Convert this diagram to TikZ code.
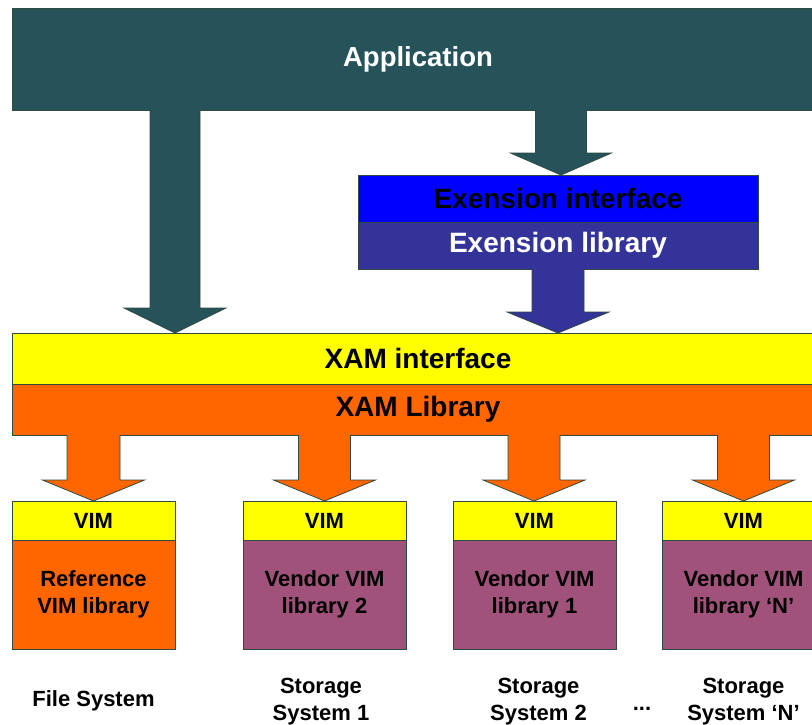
\documentclass[tikz,border=0pt]{standalone}
\usepackage{fontspec}
\setmainfont{Liberation Sans}
\usetikzlibrary{calc}

\definecolor{appteal}{HTML}{255359}
\definecolor{extblue}{HTML}{0000FF}
\definecolor{extnavy}{HTML}{333399}
\definecolor{xamyellow}{HTML}{FFFF00}
\definecolor{xamorange}{HTML}{FF6600}
\definecolor{vendorplum}{HTML}{A0527A}
\definecolor{edgegray}{HTML}{2F4A40}

% block arrow: #1 style, #2 x position, #3 source node, #4 target node,
% #5 half shaft width, #6 half head width, #7 head length
\newcommand{\fatarrow}[7]{%
  \coordinate (fas) at (#2,0 |- #3.south);
  \coordinate (fat) at (#2,0 |- #4.north);
  \filldraw[#1] ($(fas)+(-#5,0)$) -- ($(fat)+(-#5,-#7)$) -- ($(fat)+(-#6,-#7)$)
    -- (fat) -- ($(fat)+(#6,-#7)$) -- ($(fat)+(#5,-#7)$) -- ($(fas)+(#5,0)$);
}

\tikzset{
  layer/.style={draw=edgegray, line width=0.8pt, rectangle, inner sep=0pt,
    outer sep=0pt, anchor=north west, align=center, font=\bfseries},
  bigtext/.style={font=\fontsize{28}{33}\selectfont\bfseries},
  smalltext/.style={font=\fontsize{22}{27}\selectfont\bfseries},
  vimbox/.style={layer, smalltext, fill=xamyellow, minimum width=163pt, minimum height=39pt},
  libbox/.style={layer, smalltext, minimum width=163pt, minimum height=109pt},
  caption/.style={smalltext, align=center, inner sep=0pt},
  arrowline/.style={draw=edgegray, line width=0.8pt, line join=miter},
}

\begin{document}
\begin{tikzpicture}[x=1pt, y=-1pt]
\useasboundingbox (0,0) rectangle (812,724);
\clip (0,0) rectangle (812,724);

% application layer
\node[layer, fill=appteal, text=white, minimum width=812pt, minimum height=102pt,
  font=\fontsize{27.5}{33}\selectfont\bfseries] (app) at (12,8) {Application};

% extension layers
\node[layer, bigtext, fill=extblue, text=black, minimum width=400pt, minimum height=47pt]
  (extif) at (358,175) {Exension interface};
\node[layer, bigtext, fill=extnavy, text=white, minimum width=400pt, minimum height=47pt]
  (extlib) at (358,222) {Exension library};

% XAM layers
\node[layer, bigtext, fill=xamyellow, minimum width=812pt, minimum height=51pt]
  (xamif) at (12,333) {XAM interface};
\node[layer, bigtext, fill=xamorange, minimum width=812pt, minimum height=51pt]
  (xamlib) at (12,384) {XAM Library};

% VIM stacks
\node[vimbox] (vim1) at (12,501) {VIM};
\node[vimbox] (vim2) at (243,501) {VIM};
\node[vimbox] (vim3) at (453,501) {VIM};
\node[vimbox] (vim4) at (662,501) {VIM};
\node[libbox, fill=xamorange] (lib1) at (12,540) {Reference\\VIM library};
\node[libbox, fill=vendorplum] (lib2) at (243,540) {Vendor VIM\\library 2};
\node[libbox, fill=vendorplum] (lib3) at (453,540) {Vendor VIM\\library 1};
\node[libbox, fill=vendorplum] (lib4) at (662,540) {Vendor VIM\\library ‘N’};

% block arrows
\fatarrow{arrowline, fill=appteal}{175}{app}{xamif}{25}{51}{25}
\fatarrow{arrowline, fill=appteal}{561}{app}{extif}{25.5}{50.5}{22}
\fatarrow{arrowline, fill=extnavy}{558}{extlib}{xamif}{26}{51}{21}
\fatarrow{arrowline, fill=xamorange}{93.5}{xamlib}{vim1}{26.5}{51}{21}
\fatarrow{arrowline, fill=xamorange}{324.5}{xamlib}{vim2}{26}{51}{21}
\fatarrow{arrowline, fill=xamorange}{534}{xamlib}{vim3}{26}{51}{21}
\fatarrow{arrowline, fill=xamorange}{743.5}{xamlib}{vim4}{26}{51}{21}

% storage captions
\node[caption] (cap1) at (93.5,701) {File System};
\node[caption] (cap2) at (321,701.5) {Storage\\System 1};
\node[caption] (cap3) at (538.5,701.5) {Storage\\System 2};
\node[caption] (dots) at (642,709) {...};
\node[caption] (cap4) at (743.5,701.5) {Storage\\System ‘N’};
\end{tikzpicture}
\end{document}
